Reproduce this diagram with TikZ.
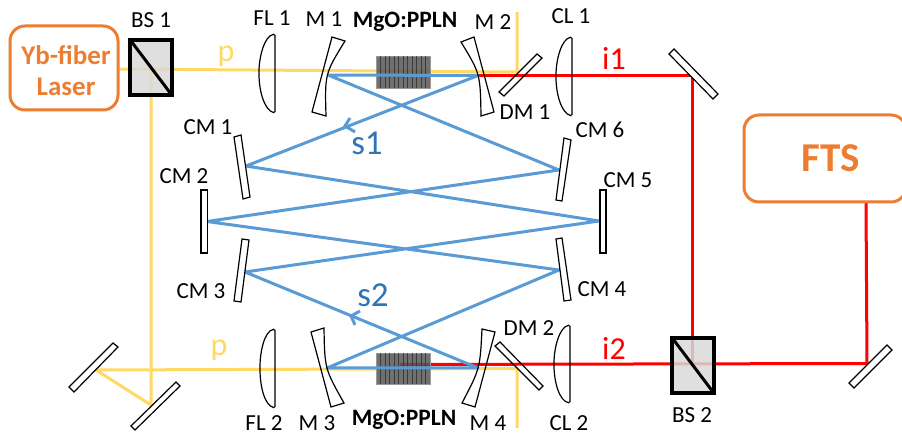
\documentclass[tikz,border=0pt]{standalone}
\usepackage{fontspec}
\setmainfont{Carlito}
\definecolor{pumpc}{HTML}{FFD966}
\definecolor{signalc}{HTML}{5B9BD5}
\definecolor{signalt}{HTML}{2E75B6}
\definecolor{orangec}{HTML}{ED7D31}
\definecolor{idlerc}{HTML}{FF0000}
\tikzset{
  pump/.style={draw=pumpc,line width=3pt},
  signal/.style={draw=signalc,line width=3pt},
  idler/.style={draw=idlerc,line width=3pt},
  optic/.style={draw=black,line width=1.2pt,fill=white},
  lens/.style={draw=black,line width=1.2pt},
  cube/.style={draw=black,line width=3.2pt,fill=black!15,fill opacity=0.85},
  srcbox/.style={draw=orangec,line width=3pt,rounded corners=15pt},
  lbl/.style={font=\fontsize{23}{25}\selectfont,inner sep=0pt,text=black},
  lblb/.style={font=\fontsize{23.5}{25}\selectfont\bfseries,inner sep=0pt,text=black},
  beamlbl/.style={font=\fontsize{32}{34}\selectfont,inner sep=0pt},
  srclbl/.style={inner sep=0pt,text=orangec}
}
\newcommand{\crystal}[2]{%
  \fill[black!66,fill opacity=0.85] (376,#1) rectangle (430,#2);
  \draw[black!40,line width=0.6pt] (376,#1) rectangle (430,#2);
  \foreach \xx in {380.5,385,...,427}{\draw[black!82,line width=0.5pt,opacity=0.8] (\xx,#1) -- (\xx,#2);}
}
\begin{document}
\begin{tikzpicture}[x=1pt,y=-1pt]
\useasboundingbox (0,0) rectangle (902,435);
% beam vertices
\coordinate (lasR) at (118,69);
\coordinate (bsA) at (151,69.5);
\coordinate (dmA) at (517,72);
\coordinate (dmAt) at (517,12);
\coordinate (foldA) at (151,405);
\coordinate (foldB) at (96,370);
\coordinate (dmB) at (517,368.5);
\coordinate (dmBb) at (517,428);
\coordinate (mA) at (328,75);
\coordinate (mB) at (478,75.5);
\coordinate (mC) at (327,368);
\coordinate (mD) at (478,368);
\coordinate (cmA) at (246,166);
\coordinate (cmB) at (207,221.5);
\coordinate (cmC) at (245,272);
\coordinate (cmD) at (559,270);
\coordinate (cmE) at (599,221);
\coordinate (cmF) at (559,170);
\coordinate (iA) at (478,76);
\coordinate (iB) at (692,76);
\coordinate (iC) at (692,364);
\coordinate (iD) at (400,364.5);
\coordinate (iE) at (867,363.5);
\coordinate (iF) at (866,203);
% pump
\draw[pump] (lasR) -- (dmA) -- (dmAt);
\draw[pump] (bsA) -- (foldA) -- (foldB) -- (dmB) -- (dmBb);
% idler
\draw[idler] (iA) -- (iB) -- (iC);
\draw[idler] (iD) -- (iE) -- (iF);
% crystals
\crystal{56.5}{88.5}
\crystal{353}{384}
% signal ring
\draw[signal,line join=round] (mA) -- (mB) -- (cmA) -- (cmE) -- (cmC) -- (mD) -- (mC) -- (cmD) -- (cmB) -- (cmF) -- cycle;
% signal direction marks
\draw[signal] (350,118) -- (345,126) -- (355,132);
\draw[signal] (360,311) -- (351,316) -- (355,325);
% lenses
\draw[lens,rounded corners=1.5pt] (275,34) .. controls (264,36) and (259,58) .. (259,73) .. controls (259,90) and (264,110) .. (275,113) -- cycle;
\draw[lens,rounded corners=1.5pt] (275,329) .. controls (264,331) and (260,353) .. (260,368) .. controls (260,385) and (264,405) .. (275,408) -- cycle;
\draw[lens,rounded corners=1.5pt] (572,37) .. controls (561,39) and (556,61) .. (556,76) .. controls (556,93) and (561,113) .. (572,116) -- cycle;
\draw[lens,rounded corners=1.5pt] (570,325) .. controls (559,327) and (554,349) .. (554,364) .. controls (554,381) and (559,401) .. (570,403) -- cycle;
% curved mirrors
\draw[lens] (332,37) -- (345,41) .. controls (324.8,73.8) .. (326,116) -- (312,112) -- cycle;
\draw[lens] (461,42) -- (474,37) -- (494,112) -- (481,116) .. controls (480.3,73.7) .. (461,42) -- cycle;
\draw[lens] (311,332) -- (324,328) .. controls (324.7,368.8) .. (344,403) -- (331,407) -- cycle;
\draw[lens] (482,329) -- (495,332) -- (475,407) -- (462,403) .. controls (480,368.7) .. (482,329) -- cycle;
% flat mirrors
\draw[optic] (69,387) -- (74,392) -- (118,347) -- (113,343) -- cycle;
\draw[optic] (131,426) -- (135,430) -- (180,386) -- (176,382) -- cycle;
\draw[lens] (499,92) -- (504,96) -- (542,58) -- (537,54) -- cycle;
\draw[lens] (495,346) -- (500,342) -- (543,386) -- (539,390) -- cycle;
\draw[optic] (669,54) -- (674,49) -- (718,94) -- (713,99) -- cycle;
\draw[optic] (849,383) -- (854,388) -- (892,350) -- (887,345) -- cycle;
\draw[optic] (234,137) -- (241,135) -- (250,197) -- (243,199) -- cycle;
\draw[optic,line width=1.8pt] (201,190) rectangle (207.5,253);
\draw[optic] (242,239) -- (249,240) -- (241,302) -- (234,301) -- cycle;
\draw[optic] (556,239) -- (562,238) -- (571,300) -- (564,301) -- cycle;
\draw[optic,line width=1.8pt] (600,190) rectangle (606,253);
\draw[optic] (564,138) -- (571,140) -- (562,201) -- (556,200) -- cycle;
% beam splitters
\draw[cube] (130,40) rectangle (172,95);
\draw[black,line width=3pt] (131,41) -- (171,94);
\draw[cube] (672,338) rectangle (714,393);
\draw[black,line width=3pt] (673,339) -- (713,392);
% source boxes
\node[srcbox,minimum width=108pt,minimum height=84pt,inner sep=0pt] (laser) at (64,68) {};
\node[srcbox,minimum width=162pt,minimum height=87pt,inner sep=0pt] (fts) at (825,158.5) {};
\node[srclbl,font=\fontsize{27}{29}\selectfont\bfseries] (lasA) at (66,55) {Yb-fiber};
\node[srclbl,font=\fontsize{27}{29}\selectfont\bfseries] (lasB) at (66,87) {Laser};
\node[srclbl,font=\fontsize{41}{43}\selectfont\bfseries] (ftsl) at (831,158) {FTS};
% labels
\node[lbl] (lBSa) at (151,20) {BS 1};
\node[lbl] (lFLa) at (272,18) {FL 1};
\node[lbl] (lMa) at (324,19) {M 1};
\node[lblb] (lXa) at (405,22) {MgO:PPLN};
\node[lbl] (lMb) at (493,22) {M 2};
\node[lbl] (lCLa) at (571,16) {CL 1};
\node[lbl] (lDMa) at (525,112) {DM 1};
\node[lbl] (lCMa) at (208,127) {CM 1};
\node[lbl] (lCMb) at (184,176) {CM 2};
\node[lbl] (lCMc) at (201,291) {CM 3};
\node[lbl] (lCMd) at (602,289) {CM 4};
\node[lbl] (lCMe) at (628,180) {CM 5};
\node[lbl] (lCMf) at (600,130) {CM 6};
\node[lbl] (lFLb) at (264,423) {FL 2};
\node[lbl] (lMc) at (317,423) {M 3};
\node[lblb] (lXb) at (404,420) {MgO:PPLN};
\node[lbl] (lMd) at (488,423) {M 4};
\node[lbl] (lCLb) at (569,423) {CL 2};
\node[lbl] (lDMb) at (529,328) {DM 2};
\node[lbl] (lBSb) at (692,415) {BS 2};
\node[beamlbl,text=pumpc] (lpa) at (226,56) {p};
\node[beamlbl,text=pumpc] (lpb) at (219,350) {p};
\node[beamlbl,text=idlerc] (lia) at (614,58) {i1};
\node[beamlbl,text=idlerc] (lib) at (614,348) {i2};
\node[beamlbl,text=signalt,font=\fontsize{35}{37}\selectfont] (lsa) at (367,143) {s1};
\node[beamlbl,text=signalt,font=\fontsize{35}{37}\selectfont] (lsb) at (373,295) {s2};
\end{tikzpicture}
\end{document}
